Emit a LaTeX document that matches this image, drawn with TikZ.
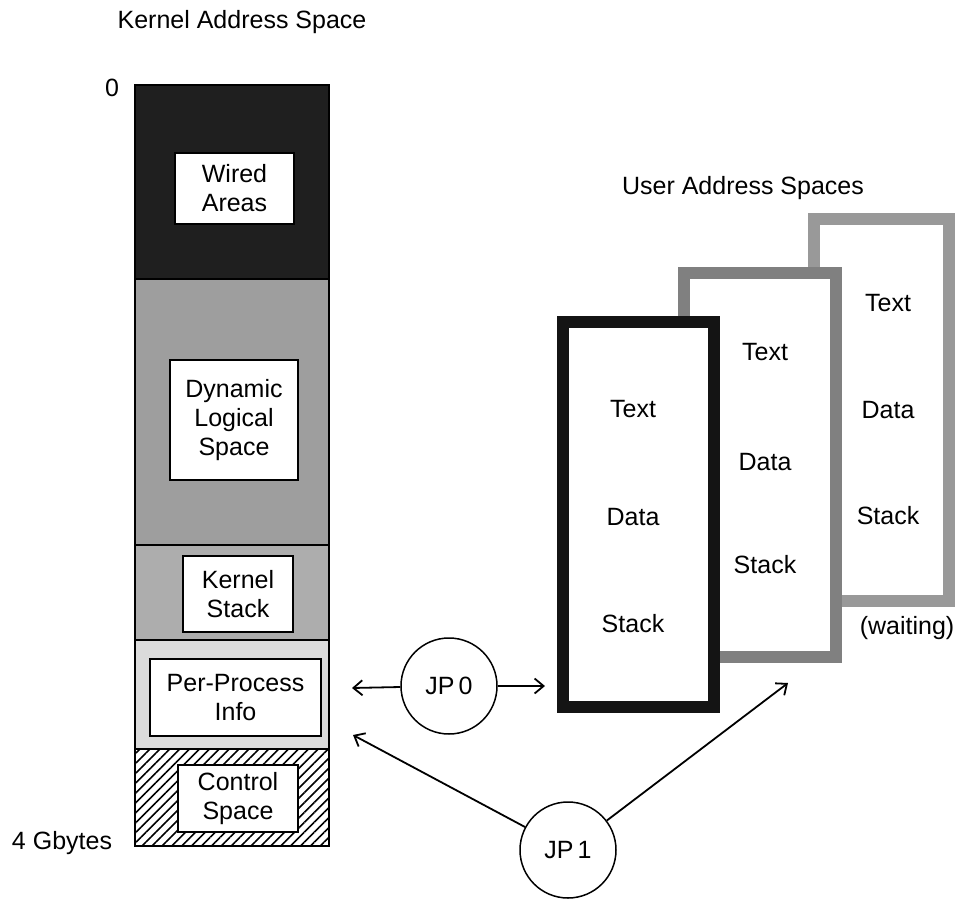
\documentclass[tikz,border=0pt]{standalone}
\usepackage{fontspec}
\setmainfont{Liberation Sans}
\usetikzlibrary{arrows.meta,patterns.meta}
\definecolor{wiredfill}{gray}{0.12}
\definecolor{dynfill}{gray}{0.62}
\definecolor{kstfill}{gray}{0.68}
\definecolor{ppifill}{gray}{0.86}
\definecolor{frontedge}{gray}{0.08}
\definecolor{midedge}{gray}{0.50}
\definecolor{backedge}{gray}{0.60}
\begin{document}
\begin{tikzpicture}[x=1pt,y=-1pt,
  txt/.style={font=\fontsize{25}{29}\selectfont, align=center, inner sep=0pt},
  areabox/.style={txt, draw, line width=1.8pt, fill=white},
  jp/.style={circle, draw, line width=1.5pt, minimum size=96pt, inner sep=0pt,
             font=\fontsize{25}{29}\selectfont},
  link/.style={line width=1.8pt, -{Straight Barb[length=9pt,width=15pt,line width=1.8pt]}},
  ubox/.style={draw, fill=white, line width=12pt, inner sep=0pt},
  sep/.style={line width=1.5pt}
]
\useasboundingbox (0,0) rectangle (955,899);

% ---- kernel address space column ----
\fill[wiredfill] (135,85) rectangle (329,279);
\fill[dynfill]   (135,279) rectangle (329,545);
\fill[kstfill]   (135,545) rectangle (329,640);
\fill[ppifill]   (135,640) rectangle (329,749);
\fill[white]     (135,749) rectangle (329,846);
\fill[pattern={Lines[angle=45,distance=7pt,line width=1.6pt]}] (135,749) rectangle (329,846);
\draw[sep] (135,279) -- (329,279);
\draw[sep] (135,545) -- (329,545);
\draw[sep] (135,640) -- (329,640);
\draw[sep] (135,749) -- (329,749);
\draw[line width=1.8pt] (135,85) rectangle (329,846);

\node[areabox, minimum width=119pt, minimum height=71pt]  (wired) at (234.5,188.5) {Wired\\Areas};
\node[areabox, minimum width=128pt, minimum height=120pt] (dyn)   at (234,420) {Dynamic\\Logical\\Space};
\node[areabox, minimum width=110pt, minimum height=76pt]  (kst)   at (238,594) {Kernel\\Stack};
\node[areabox, minimum width=171pt, minimum height=77pt]  (ppi)   at (235.5,697.5) {Per-Process\\Info};
\node[areabox, minimum width=120pt, minimum height=67pt]  (ctl)   at (238,798.5) {Control\\Space};

\node[txt] (kas)   at (242,22)  {Kernel Address Space};
\node[txt] (zero)  at (112,88)  {0};
\node[txt] (gbyte) at (62,843)  {4 Gbytes};

% ---- user address spaces, back to front ----
\node[txt] (uas) at (743,188) {User Address Spaces};

\node[ubox, draw=backedge, minimum width=135pt, minimum height=382pt] (u3) at (881.5,410) {};
\node[txt] at (888,303) {Text};
\node[txt] at (888,410) {Data};
\node[txt] at (888,516) {Stack};
\node[txt] (wait) at (907,628) {(waiting)};

\node[ubox, draw=midedge, minimum width=152pt, minimum height=384pt] (u2) at (760,465) {};
\node[txt] at (765,352) {Text};
\node[txt] at (765,462) {Data};
\node[txt] at (765,565) {Stack};

\node[ubox, draw=frontedge, minimum width=151pt, minimum height=385pt] (u1) at (638.5,514.5) {};
\node[txt] at (633,409) {Text};
\node[txt] at (633,517) {Data};
\node[txt] at (633,624) {Stack};

% ---- processors ----
\node[jp] (jp0) at (449,686) {JP\,0};
\node[jp] (jp1) at (568,850) {JP\,1};

\coordinate (ppiR)  at (352,688);
\coordinate (ppiRB) at (353,735);
\coordinate (u1L)   at (545,686);
\coordinate (u2B)   at (788,683);

\draw[link] (jp0) -- (ppiR);
\draw[link] (jp0) -- (u1L);
\draw[link] (jp1) -- (ppiRB);
\draw[link] (jp1) -- (u2B);
\end{tikzpicture}
\end{document}
